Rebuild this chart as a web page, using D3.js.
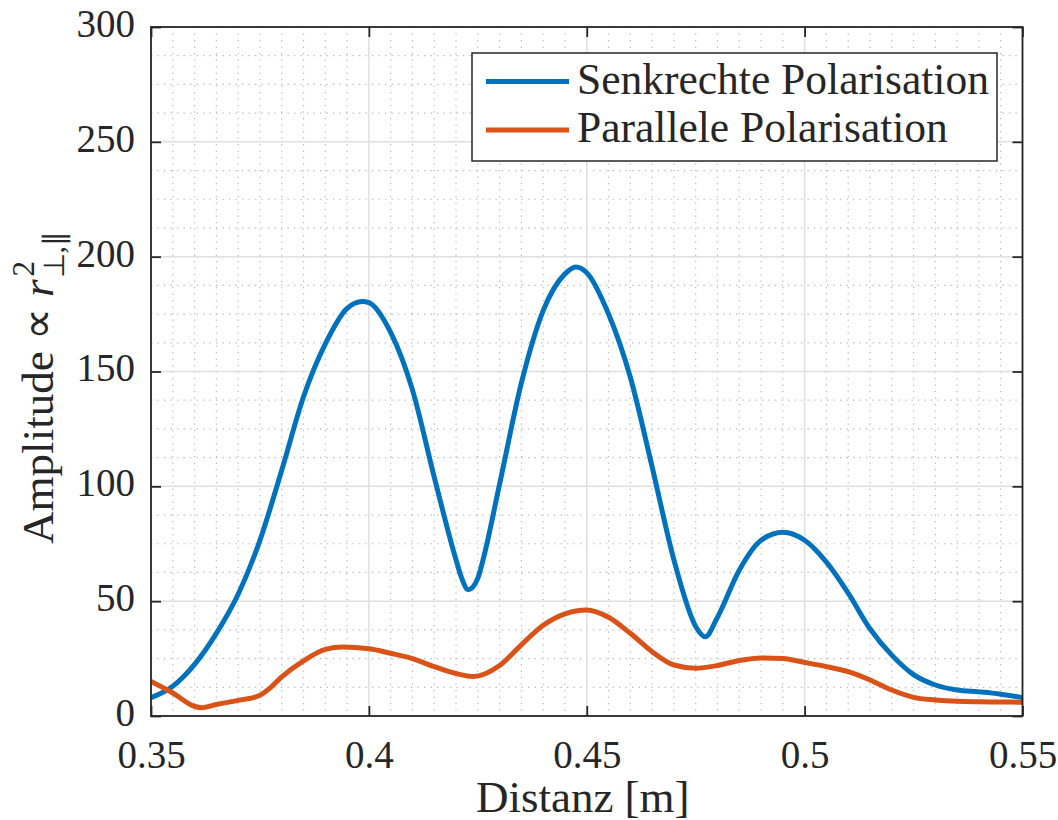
<!DOCTYPE html>
<html>
<head>
<meta charset="utf-8">
<script src="https://cdn.jsdelivr.net/npm/d3@7"></script>
<style>
  body { margin: 0; background: #ffffff; }
  text { font-family: "Liberation Serif", "Times New Roman", serif; fill: #262626; }
</style>
</head>
<body>
<div id="chart-container"></div>
<script>
// Senkrechte Polarisation (blue)
const senkrechtX = [0.35, 0.355, 0.36, 0.365, 0.37, 0.375, 0.38, 0.385, 0.39, 0.395, 0.3985, 0.4,
  0.405, 0.41, 0.415, 0.42, 0.4213, 0.4228, 0.425, 0.4262, 0.43, 0.435, 0.44, 0.445, 0.4475, 0.45,
  0.455, 0.46, 0.465, 0.47, 0.475, 0.4772, 0.48, 0.485, 0.49, 0.495, 0.5,
  0.505, 0.51, 0.515, 0.52, 0.525, 0.53, 0.535, 0.54, 0.545, 0.55];
const senkrechtY = [8, 13, 22.5, 36, 53, 76.5, 107, 139, 162, 177.5, 180.5, 180,
  167, 142, 104, 68, 60, 55, 60, 68, 101, 145, 176.5, 192.5, 195.5, 193,
  175, 147.5, 108.5, 68, 39, 34.5, 43, 63.5, 76.5, 80, 76.5,
  67, 53.5, 38, 26.5, 18, 13.5, 11.3, 10.5, 9.5, 8];

// Parallele Polarisation (orange)
const parallelX = [0.35, 0.355, 0.36, 0.3615, 0.365, 0.37, 0.375, 0.3775, 0.38, 0.385, 0.39, 0.394, 0.4,
  0.405, 0.41, 0.415, 0.42, 0.424, 0.43, 0.435, 0.44, 0.445, 0.45,
  0.455, 0.46, 0.465, 0.47, 0.475, 0.48, 0.485, 0.49, 0.495, 0.5,
  0.505, 0.51, 0.515, 0.52, 0.525, 0.53, 0.535, 0.54, 0.545, 0.55];
const parallelY = [15, 10, 4.2, 3.6, 5, 6.8, 9, 12.5, 17, 24, 29, 30, 29.3,
  27.3, 25, 21.5, 18.5, 17.2, 22, 31, 39.5, 44.5, 46.2,
  43, 36, 28, 22.2, 20.8, 22, 24.2, 25.3, 25, 23.3,
  21.5, 19.3, 15.7, 11.3, 8.1, 7, 6.4, 6.2, 6.1, 6];

const xTicks = [0.35, 0.4, 0.45, 0.5, 0.55];
const xTickLabels = ["0.35", "0.4", "0.45", "0.5", "0.55"];
const yTicks = [0, 50, 100, 150, 200, 250, 300];
const legendLabels = ["Senkrechte Polarisation", "Parallele Polarisation"];
const colors = ["#0072BD", "#D95319"];

const width = 1058, height = 820;
const margin = { top: 27, right: 35.5, bottom: 104, left: 151 };
const axisColor = "#262626";

const x = d3.scaleLinear().domain([0.35, 0.55]).range([margin.left, width - margin.right]);
const y = d3.scaleLinear().domain([0, 300]).range([height - margin.bottom, margin.top]);

const svg = d3.select("#chart-container")
  .append("svg")
  .attr("width", width)
  .attr("height", height);

svg.append("rect").attr("width", width).attr("height", height).attr("fill", "#ffffff");

// minor grid (dotted)
const xMinor = d3.range(0, 41).filter(i => i % 10 !== 0).map(i => 0.35 + i * 0.005);
const yMinor = d3.range(0, 25).filter(i => i % 4 !== 0).map(i => i * 12.5);

const grid = svg.append("g");
grid.selectAll(".xminor").data(xMinor).enter().append("line")
  .attr("x1", d => x(d)).attr("x2", d => x(d))
  .attr("y1", y(300)).attr("y2", y(0))
  .attr("stroke", "#b8b8b8").attr("stroke-width", 1.2)
  .attr("stroke-dasharray", "1.3,5.2");
grid.selectAll(".yminor").data(yMinor).enter().append("line")
  .attr("x1", x(0.35)).attr("x2", x(0.55))
  .attr("y1", d => y(d)).attr("y2", d => y(d))
  .attr("stroke", "#b8b8b8").attr("stroke-width", 1.2)
  .attr("stroke-dasharray", "1.3,5.2");

// major grid
grid.selectAll(".xmajor").data(xTicks).enter().append("line")
  .attr("x1", d => x(d)).attr("x2", d => x(d))
  .attr("y1", y(300)).attr("y2", y(0))
  .attr("stroke", "#dfdfdf").attr("stroke-width", 1.5);
grid.selectAll(".ymajor").data(yTicks).enter().append("line")
  .attr("x1", x(0.35)).attr("x2", x(0.55))
  .attr("y1", d => y(d)).attr("y2", d => y(d))
  .attr("stroke", "#dfdfdf").attr("stroke-width", 1.5);

// clip
svg.append("clipPath").attr("id", "plot-clip")
  .append("rect")
  .attr("x", x(0.35)).attr("y", y(300))
  .attr("width", x(0.55) - x(0.35)).attr("height", y(0) - y(300));

const line = d3.line()
  .x(d => x(d[0]))
  .y(d => y(d[1]))
  .curve(d3.curveMonotoneX);

const series = [
  d3.zip(senkrechtX, senkrechtY),
  d3.zip(parallelX, parallelY)
];

svg.append("g").attr("clip-path", "url(#plot-clip)")
  .selectAll("path").data(series).enter().append("path")
  .attr("d", line)
  .attr("fill", "none")
  .attr("stroke", (_, i) => colors[i])
  .attr("stroke-width", 5)
  .attr("stroke-linejoin", "round");

// axes
const fontTick = 39;
const xAxis = d3.axisBottom(x).tickValues(xTicks)
  .tickFormat((d, i) => xTickLabels[i])
  .tickSizeInner(-10).tickSizeOuter(0).tickPadding(24);
const yAxis = d3.axisLeft(y).tickValues(yTicks)
  .tickFormat(d3.format("d"))
  .tickSizeInner(-10).tickSizeOuter(0).tickPadding(16);

const gx = svg.append("g").attr("transform", `translate(0,${y(0)})`).call(xAxis);
const gy = svg.append("g").attr("transform", `translate(${x(0.35)},0)`).call(yAxis);
svg.append("g").attr("transform", `translate(0,${y(300)})`)
  .call(d3.axisTop(x).tickValues(xTicks).tickFormat("").tickSizeInner(-10).tickSizeOuter(0));
svg.append("g").attr("transform", `translate(${x(0.55)},0)`)
  .call(d3.axisRight(y).tickValues(yTicks).tickFormat("").tickSizeInner(-10).tickSizeOuter(0));

svg.selectAll(".domain").remove();
svg.selectAll(".tick line").attr("stroke", axisColor).attr("stroke-width", 1.8);
[gx, gy].forEach(g => g.selectAll(".tick text")
  .attr("font-size", fontTick)
  .attr("font-family", "Liberation Serif, serif")
  .attr("fill", axisColor));
gy.selectAll(".tick text").attr("dy", "0.24em");

// frame
svg.append("rect")
  .attr("x", x(0.35)).attr("y", y(300))
  .attr("width", x(0.55) - x(0.35)).attr("height", y(0) - y(300))
  .attr("fill", "none").attr("stroke", axisColor).attr("stroke-width", 1.8);

// x label
svg.append("text")
  .attr("x", (x(0.35) + x(0.55)) / 2 - 4)
  .attr("y", 812)
  .attr("text-anchor", "middle")
  .attr("font-size", 45)
  .text("Distanz [m]");

// y label with math
const ylab = svg.append("g")
  .attr("transform", `translate(53,${(y(0) + y(300)) / 2})rotate(-90)`);
const mainText = ylab.append("text").attr("font-size", 45);
mainText.append("tspan").text("Amplitude \u221D ");
mainText.append("tspan").attr("font-style", "italic").text("r");
const mainW = mainText.node().getComputedTextLength();
const supText = ylab.append("text").attr("font-size", 31).text("2");
const subText = ylab.append("text").attr("font-size", 29).text("\u22A5,\u2225");
const scriptW = Math.max(supText.node().getComputedTextLength(), subText.node().getComputedTextLength());
const start = -(mainW + scriptW + 3) / 2 - 15;
mainText.attr("x", start);
supText.attr("x", start + mainW + 3).attr("y", -19);
subText.attr("x", start + mainW + 1).attr("y", 11);

// legend
const legend = svg.append("g");
legend.append("rect")
  .attr("x", 472).attr("y", 53)
  .attr("width", 525).attr("height", 108)
  .attr("fill", "#ffffff")
  .attr("stroke", axisColor).attr("stroke-width", 1.5);
const rows = legend.selectAll(".row").data(legendLabels).enter().append("g")
  .attr("transform", (_, i) => `translate(0,${81.5 + i * 48.5})`);
rows.append("line")
  .attr("x1", 486).attr("x2", 569)
  .attr("stroke", (_, i) => colors[i]).attr("stroke-width", 5);
rows.append("text")
  .attr("x", 577).attr("y", 12)
  .attr("font-size", 43.5)
  .text(d => d);
</script>
</body>
</html>
